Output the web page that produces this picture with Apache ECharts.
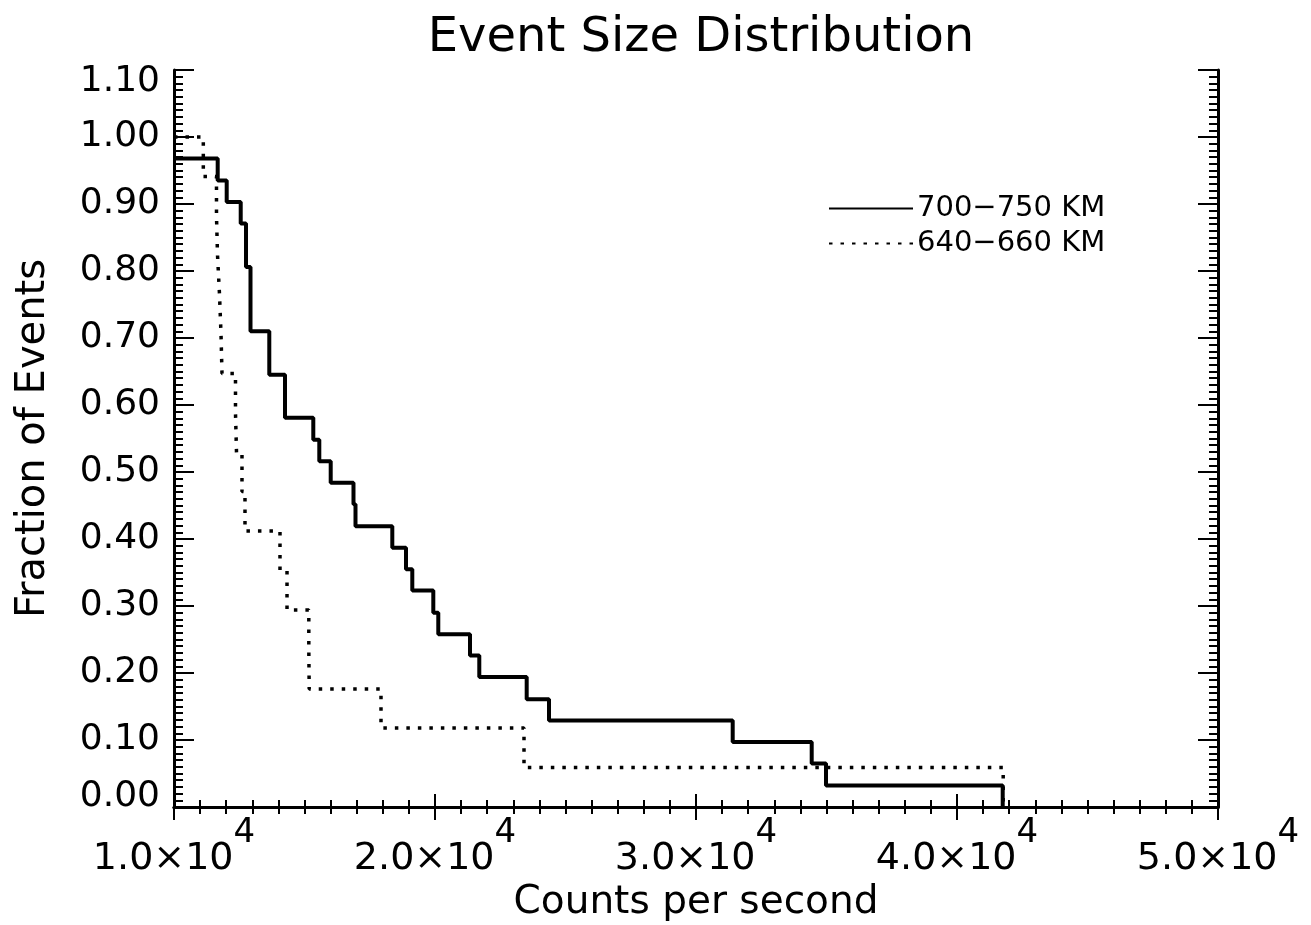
<!DOCTYPE html>
<html>
<head>
<meta charset="utf-8">
<script src="https://cdn.jsdelivr.net/npm/echarts@6/dist/echarts.min.js"></script>
<style>
html,body{margin:0;padding:0;background:#fff;}
#chart{width:1311px;height:925px;}
</style>
</head>
<body>
<div id="chart"></div>
<script>
// 700-750 KM (solid): x where each step ends, value after the step
const solidX = [10000, 11674, 12019, 12556, 12759, 12931, 13651, 14253, 15337, 15567, 16004, 16877, 16954, 18364, 18889, 19130, 19935, 20126, 21341, 21697, 23513, 24368, 31406, 34433, 34981, 41751];
const solidY = [0.968, 0.935, 0.903, 0.871, 0.806, 0.710, 0.645, 0.581, 0.548, 0.516, 0.484, 0.452, 0.419, 0.387, 0.355, 0.323, 0.290, 0.258, 0.226, 0.194, 0.161, 0.129, 0.097, 0.065, 0.032, 0.000];
// 640-660 KM (dotted)
const dotX = [10000, 11123, 11628, 11667, 11743, 11801, 11839, 12356, 12395, 12605, 12720, 14061, 14330, 15165, 15180, 17931, 23410, 41770];
const dotY = [1.000, 0.941, 0.882, 0.824, 0.765, 0.706, 0.647, 0.588, 0.529, 0.471, 0.412, 0.353, 0.294, 0.235, 0.176, 0.118, 0.059, 0.000];

const seriesNames = ['700\u2212750 KM', '640\u2212660 KM'];
const xTicks = [10000, 20000, 30000, 40000, 50000];
const yTicks = [0, 0.1, 0.2, 0.3, 0.4, 0.5, 0.6, 0.7, 0.8, 0.9, 1.0, 1.1];

const FONT = 'DejaVu Sans';
const zip = (xs, ys) => xs.map((x, i) => [x, ys[i]]);

const axisLineStyle = { show: true, lineStyle: { color: '#000', width: 3 } };
const xBase = {
  type: 'value', min: xTicks[0], max: xTicks[xTicks.length - 1], interval: 10000,
  axisLine: axisLineStyle, splitLine: { show: false },
  axisTick: { show: true, inside: true, length: 13, lineStyle: { color: '#000', width: 2 } },
  minorTick: { show: true, splitNumber: 10, length: 7, lineStyle: { color: '#000', width: 2 } },
  minorSplitLine: { show: false }
};
const yBase = {
  type: 'value', min: yTicks[0], max: yTicks[yTicks.length - 1], interval: 0.1,
  axisLine: axisLineStyle, splitLine: { show: false },
  axisTick: { show: true, inside: true, length: 20, lineStyle: { color: '#000', width: 2 } },
  minorTick: { show: true, splitNumber: 10, length: 9, lineStyle: { color: '#000', width: 2 } },
  minorSplitLine: { show: false }
};

const chart = echarts.init(document.getElementById('chart'), null, { renderer: 'canvas' });
chart.setOption({
  backgroundColor: '#fff',
  animation: false,
  title: {
    text: 'Event Size Distribution', left: 696, top: 10, textAlign: 'center',
    textStyle: { fontFamily: FONT, fontSize: 48, fontWeight: 'normal', color: '#000' }
  },
  grid: { left: 174, right: 93, top: 70, bottom: 118, containLabel: false, outerBoundsMode: 'none' },
  legend: {
    orient: 'vertical', left: 828, top: 194, itemWidth: 84, itemHeight: 22, itemGap: 6,
    padding: 0, selectedMode: false,
    itemStyle: { opacity: 0 },
    textStyle: { fontFamily: FONT, fontSize: 29, color: '#000', padding: [0, 0, 0, -1] },
    data: seriesNames
  },
  xAxis: [
    Object.assign({}, xBase, {
      position: 'bottom',
      name: 'Counts per second', nameLocation: 'middle', nameGap: 67,
      nameTextStyle: { fontFamily: FONT, fontSize: 39, color: '#000' },
      axisLabel: {
        show: true, margin: 9, color: '#000',
        formatter: v => '{m|' + (v / 10000).toFixed(1) + '\u00d710}{s|4}',
        rich: {
          m: { fontFamily: FONT, fontSize: 38, color: '#000', verticalAlign: 'bottom' },
          s: { fontFamily: FONT, fontSize: 34, color: '#000', verticalAlign: 'bottom', padding: [0, 0, 28, 0] }
        }
      }
    }),
    Object.assign({}, xBase, { position: 'top', axisLabel: { show: false } })
  ],
  yAxis: [
    Object.assign({}, yBase, {
      position: 'left',
      name: 'Fraction of Events', nameLocation: 'middle', nameGap: 120,
      nameTextStyle: { fontFamily: FONT, fontSize: 40, color: '#000' },
      axisLabel: {
        show: true, margin: 14, color: '#000',
        formatter: v => {
          const s = v.toFixed(2);
          if (Math.abs(v - 1.1) < 1e-6) return '{t|' + s + '}';
          if (Math.abs(v) < 1e-6) return '{b|' + s + '}';
          return '{n|' + s + '}';
        },
        rich: {
          n: { fontFamily: FONT, fontSize: 36, color: '#000' },
          t: { fontFamily: FONT, fontSize: 36, color: '#000', padding: [24, 0, 0, 0] },
          b: { fontFamily: FONT, fontSize: 36, color: '#000', padding: [0, 0, 20, 0] }
        }
      }
    }),
    Object.assign({}, yBase, { position: 'right', axisLabel: { show: false } })
  ],
  series: [
    {
      name: seriesNames[0], type: 'line', step: 'end', xAxisIndex: 0, yAxisIndex: 0,
      data: zip(solidX, solidY), symbol: 'none', showSymbol: false,
      lineStyle: { color: '#000', width: 4, type: 'solid' },
      itemStyle: { color: '#000' }
    },
    {
      name: seriesNames[1], type: 'line', step: 'end', xAxisIndex: 0, yAxisIndex: 0,
      data: zip(dotX, dotY), symbol: 'none', showSymbol: false,
      lineStyle: { color: '#000', width: 3.5, type: [3.5, 8] },
      itemStyle: { color: '#000' }
    }
  ]
});
</script>
</body>
</html>
